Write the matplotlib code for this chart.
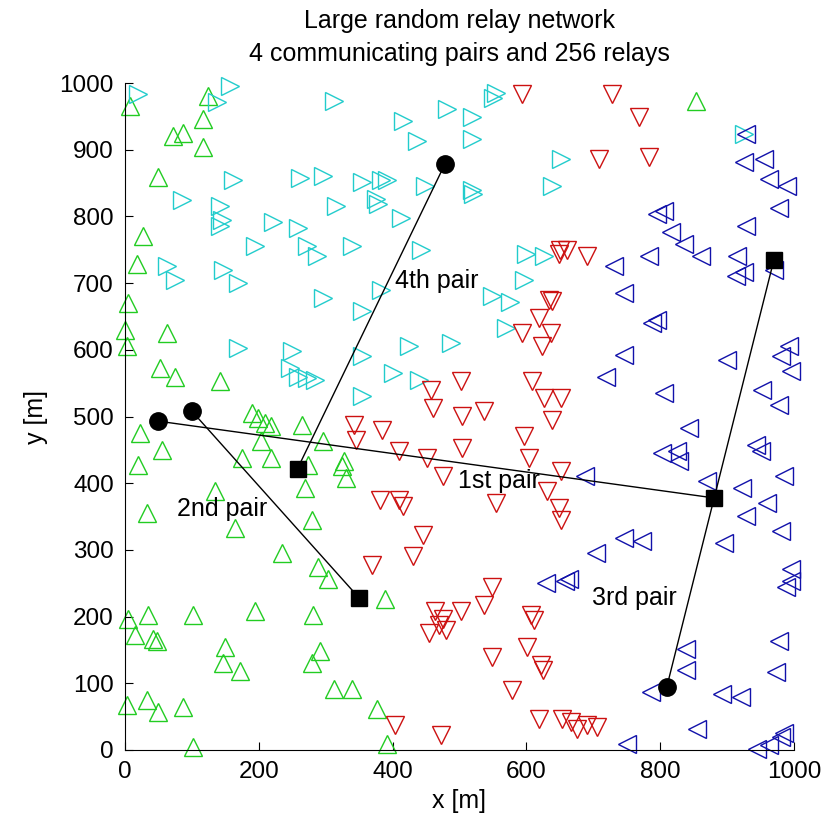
import matplotlib
matplotlib.use("Agg")
import matplotlib.pyplot as plt
import numpy as np

plt.rcParams['font.family'] = ['Liberation Sans', 'DejaVu Sans']

# relays (x, y in metres)
green_x = [7, 124, 116, 72, 87, 116, 49, 27, 18, 854,
           5, 0, 3, 63, 52, 75, 142, 22, 55, 20, 190, 199, 209, 219, 264,
           204, 296, 175, 219, 273, 324, 269, 134, 33, 279, 328, 331,
           164, 234, 288, 303, 4, 34, 101, 194, 281, 15, 42, 48, 149,
           146, 172, 291, 279, 313, 3, 33, 49, 87, 101, 388, 340, 376, 391]
green_y = [966, 980, 946, 921, 925, 904, 859, 770, 729, 973,
           670, 629, 605, 625, 572, 560, 553, 475, 450, 428, 505, 498, 490, 486, 487,
           463, 463, 438, 438, 428, 426, 393, 389, 356, 345, 433, 408,
           333, 296, 274, 256, 196, 203, 203, 209, 203, 172, 166, 164, 154,
           131, 119, 149, 131, 91, 67, 75, 57, 64, 4, 226, 91, 61, 9]

cyan_x = [19, 157, 137, 313, 161, 261, 296, 85, 142, 142, 145, 221, 258, 316,
          194, 272, 287, 63, 75, 146, 169, 296,
          555, 550, 481, 415, 518, 518, 437, 652, 355, 383, 391, 448, 518, 520,
          639, 378, 375, 413, 340, 443, 600, 627, 597, 382, 549, 575,
          169, 249, 246, 258, 272, 284,
          354, 570, 425, 488, 355, 400, 440, 355, 925]
cyan_y = [984, 996, 972, 973, 854, 857, 860, 824, 815, 785, 795, 792, 782, 815,
          756, 756, 740, 726, 704, 719, 700, 677,
          985, 978, 961, 943, 949, 916, 913, 886, 852, 854, 854, 846, 839, 834,
          845, 819, 826, 797, 755, 749, 744, 741, 704, 689, 680, 672,
          602, 598, 572, 560, 558, 555,
          658, 632, 605, 610, 590, 565, 555, 531, 924]

red_x = [594, 649, 650, 634,
         728, 769, 709, 784, 660, 691,
         639, 619, 594, 637, 624, 609, 627, 652, 639, 597, 604, 652, 631, 649, 652,
         503, 458, 460, 504, 537, 343, 384, 346, 504, 410, 452, 475, 381, 410, 415, 555,
         445, 431, 370, 549, 537, 503, 463, 475, 470, 455, 480, 607, 612, 601,
         622, 625, 548, 578, 403, 473, 619, 654,
         667, 676, 690, 706]
red_y = [983, 744, 750, 674,
         984, 949, 886, 889, 749, 740,
         673, 647, 625, 625, 605, 553, 528, 528, 495, 471, 438, 419, 389, 363, 345,
         553, 540, 513, 501, 508, 487, 480, 465, 453, 448, 438, 411, 375, 375, 366, 371,
         323, 291, 278, 244, 217, 209, 209, 196, 187, 176, 180, 202, 195, 154,
         127, 120, 139, 90, 37, 22, 46, 46,
         42, 31, 37, 34]

blue_x = [928, 925, 955, 963, 990, 978, 796, 805, 816, 836, 861, 928, 915, 925,
          913, 970, 784, 731, 746,
          788, 795, 746, 719, 806, 900, 993, 981, 996, 952, 978, 843, 803, 825,
          828, 943, 951, 687, 870, 922, 985, 960, 928,
          746, 773, 704, 664, 896, 981, 996, 988, 995, 978, 973, 839, 839, 787,
          893, 921, 855, 751, 945, 963, 981, 985, 630, 657]
blue_y = [924, 882, 886, 856, 845, 812, 804, 808, 777, 759, 741, 785, 741, 717,
          710, 719, 740, 725, 685,
          640, 645, 592, 560, 535, 584, 605, 590, 568, 540, 518, 483, 445, 448,
          433, 457, 448, 411, 403, 393, 411, 371, 351,
          318, 314, 296, 256, 311, 329, 271, 244, 253, 164, 117, 151, 120, 87,
          84, 79, 31, 9, 1, 7, 19, 25, 251, 254]

# communicating pairs: source (circle) -> destination (square)
pair_names = ['1st pair', '2nd pair', '3rd pair', '4th pair']
src_x = [50, 100, 810, 478]
src_y = [493, 508, 95, 878]
dst_x = [880, 350, 970, 258]
dst_y = [378, 228, 735, 422]
label_x = [498, 78, 698, 403]
label_y = [403, 361, 228, 703]

fig = plt.figure(figsize=(8.37, 8.23), dpi=100)
ax = fig.add_axes([0.1493, 0.0887, 0.7993, 0.8104])

ms = 13
style = dict(mfc='none', ms=ms, mew=1, ls='none', clip_on=False)
ax.plot(green_x, green_y, '^', color='#22cc22', **style)
ax.plot(cyan_x, cyan_y, '>', color='#22cccc', **style)
ax.plot(red_x, red_y, 'v', color='#cc1111', **style)
ax.plot(blue_x, blue_y, '<', color='#1111aa', **style)

for i in range(4):
    ax.plot([src_x[i], dst_x[i]], [src_y[i], dst_y[i]], '-', color='black', lw=1)
    ax.plot(src_x[i], src_y[i], 'o', color='black', ms=12.5)
    ax.plot(dst_x[i], dst_y[i], 's', color='black', ms=11.5)
    ax.text(label_x[i], label_y[i], pair_names[i], fontsize=18, va='center', ha='left')

ax.set_xlim(0, 1000)
ax.set_ylim(0, 1000)
ax.set_xticks(np.arange(0, 1001, 200))
ax.set_yticks(np.arange(0, 1001, 100))
ax.tick_params(direction='in', labelsize=17.5, length=6, pad=8)
ax.spines['top'].set_visible(False)
ax.spines['right'].set_visible(False)
ax.set_xlabel('x [m]', fontsize=18, labelpad=4)
ax.set_ylabel('y [m]', fontsize=18, labelpad=8)
ax.set_title('Large random relay network\n4 communicating pairs and 256 relays',
             fontsize=18, pad=16, linespacing=1.45)

fig.savefig('out.png', dpi=100)
